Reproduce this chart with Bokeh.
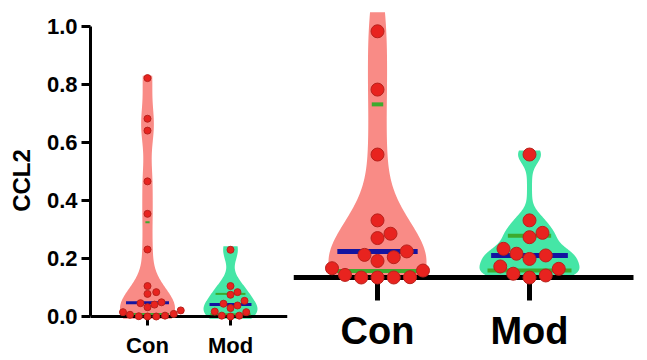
import numpy as np
from bokeh.plotting import figure
from bokeh.layouts import row
from bokeh.models import FixedTicker, NumeralTickFormatter
from bokeh.embed import file_html
from bokeh.resources import INLINE

# ---------------- data ----------------
categories = ["Con", "Mod"]
y_label = "CCL2"
y_ticks = [0.0, 0.2, 0.4, 0.6, 0.8, 1.0]

# left panel (full range)
left_con = [0.822, 0.682, 0.641, 0.466, 0.354, 0.231, 0.105, 0.084, 0.078, 0.049,
            0.046, 0.041, 0.032, 0.021, 0.015, 0.009, 0.006, 0.003, 0.001, 0.000, 0.000]
left_mod = [0.230, 0.105, 0.084, 0.075, 0.054, 0.044, 0.038, 0.029, 0.017, 0.015,
            0.003, 0.003, 0.000]
# quartiles: [Q1, median, Q3]
left_con_q = [0.009, 0.047, 0.325]
left_mod_q = [0.008, 0.041, 0.078]
left_con_ext = [-0.008, 0.83]
left_mod_ext = [-0.008, 0.242]

# right panel (enlarged view)
right_con = [0.989, 0.788, 0.564, 0.337, 0.291, 0.276, 0.230, 0.218, 0.210, 0.197,
             0.172, 0.164, 0.149, 0.141, 0.140, 0.140, 0.140]
right_mod = [0.564, 0.337, 0.294, 0.279, 0.239, 0.222, 0.216, 0.204, 0.178, 0.170,
             0.153, 0.147, 0.140]
right_con_q = [0.162, 0.230, 0.737]
right_mod_q = [0.164, 0.216, 0.284]
right_con_ext = [0.137, 1.055]
right_mod_ext = [0.137, 0.578]
right_base = 0.14

# ---------------- styles ----------------
FONT = "Liberation Sans"
CON_FILL = "#F98B86"
MOD_FILL = "#45E6A6"
DOT_FILL = "#E8231F"
DOT_LINE = "#B8221C"
MED_COL = "#1414A0"
QRT_COL = "#3DAA2E"


def kde_raw(values, grid, h):
    v = np.asarray(values, dtype=float)
    return np.exp(-0.5 * ((grid[:, None] - v[None, :]) / h) ** 2).sum(axis=1)


def swarm(values, d_px, px_x, px_y, sep=1.05):
    vals = np.asarray(values, dtype=float)
    order = np.argsort(vals, kind="stable")
    placed = []
    offs = np.zeros(len(vals))
    step = d_px / 4.0
    cands = [0.0]
    for k in range(1, 80):
        cands += [k * step, -k * step]
    for i in order:
        y = vals[i] * px_y
        for c in cands:
            if all((c - px) ** 2 + (y - py) ** 2 >= (sep * d_px) ** 2 for px, py in placed):
                break
        placed.append((c, y))
        offs[i] = c / px_x
    return offs


def draw_violin(p, center, values, ext, quarts, fill, maxhalf, h, floor, gamma,
                dot_size, px_x, px_y, med_w, q_w, frac=0.9):
    ys = np.linspace(ext[0], ext[1], 300)
    raw = kde_raw(values, ys, h)
    mx = raw.max()
    kn = (raw / mx) ** gamma
    half = maxhalf * (floor + (1 - floor) * kn)
    xs = np.concatenate([center + half, (center - half)[::-1]])
    yy = np.concatenate([ys, ys[::-1]])
    p.patch(xs, yy, fill_color=fill, line_color=None, level="underlay")
    for j, q in enumerate(quarts):
        kq = (kde_raw(values, np.array([q]), h)[0] / mx) ** gamma
        hl = frac * maxhalf * (1 - floor) * kq
        col = MED_COL if j == 1 else QRT_COL
        lw = med_w if j == 1 else q_w
        p.segment(x0=[center - hl], x1=[center + hl], y0=[q], y1=[q],
                  line_color=col, line_width=lw, level="annotation")
    offs = swarm(values, dot_size, px_x, px_y)
    p.scatter(center + offs, values, size=dot_size, fill_color=DOT_FILL,
              line_color=DOT_LINE, line_width=1, level="overlay")


def style_common(p):
    p.outline_line_color = None
    p.xgrid.grid_line_color = None
    p.ygrid.grid_line_color = None
    p.background_fill_color = "white"
    p.border_fill_color = "white"


def style_xaxis(ax, lw, tick_out, font_size, standoff):
    ax.ticker = FixedTicker(ticks=[1, 2])
    ax.major_label_overrides = {1: categories[0], 2: categories[1]}
    ax.axis_line_width = lw
    ax.major_tick_line_width = lw
    ax.major_tick_in = 0
    ax.major_tick_out = tick_out
    ax.minor_tick_line_color = None
    ax.major_label_text_font = FONT
    ax.major_label_text_font_style = "bold"
    ax.major_label_text_font_size = font_size
    ax.major_label_text_color = "black"
    ax.major_label_standoff = standoff


# ---------------- left panel ----------------
PXY = 290.0
LPX = 83.0
L_TOP, L_ZERO, H = 26.0, 316.0, 360.0
left = figure(width=293, height=360,
              x_range=(1 - 57 / LPX, 1 + 140 / LPX),
              y_range=(-(H - L_ZERO) / PXY, 1 + L_TOP / PXY),
              min_border_left=90, min_border_right=6, min_border_top=0, min_border_bottom=0,
              output_backend="svg", toolbar_location=None)
style_common(left)
draw_violin(left, 1, left_con, left_con_ext, left_con_q, CON_FILL, 27.5 / LPX, 0.06, 0.10, 1.0,
            7, LPX, PXY, 3, 2)
draw_violin(left, 2, left_mod, left_mod_ext, left_mod_q, MOD_FILL, 27.0 / LPX, 0.03, 0.10, 0.8,
            7, LPX, PXY, 3, 2)

ya = left.yaxis[0]
ya.ticker = FixedTicker(ticks=y_ticks)
ya.formatter = NumeralTickFormatter(format="0.0")
ya.bounds = (0, 1)
ya.axis_line_width = 3
ya.major_tick_line_width = 3
ya.major_tick_out = 9
ya.major_tick_in = 0
ya.minor_tick_line_color = None
ya.major_label_text_font = FONT
ya.major_label_text_font_style = "bold"
ya.major_label_text_font_size = "22px"
ya.major_label_text_color = "black"
ya.major_label_standoff = 4
ya.axis_label = y_label
ya.axis_label_text_font = FONT
ya.axis_label_text_font_style = "bold"
ya.axis_label_text_font_size = "24px"
ya.axis_label_text_color = "black"
ya.axis_label_standoff = 9

style_xaxis(left.xaxis[0], 3, 9, "22px", 7)
left.xaxis.fixed_location = 0

# ---------------- right panel ----------------
RPX = 152.0
R_BASE_PX = 277.0
right = figure(width=354, height=360,
               x_range=(1 - 84 / RPX, 1 + 270 / RPX),
               y_range=(right_base - (H - R_BASE_PX) / PXY, right_base + R_BASE_PX / PXY),
               min_border_left=0, min_border_right=0, min_border_top=0, min_border_bottom=0,
               y_axis_location=None, output_backend="svg", toolbar_location=None)
style_common(right)
draw_violin(right, 1, right_con, right_con_ext, right_con_q, CON_FILL, 49.0 / RPX, 0.12, 0.06, 0.9,
            13, RPX, PXY, 5, 4)
draw_violin(right, 2, right_mod, right_mod_ext, right_mod_q, MOD_FILL, 50.0 / RPX, 0.03, 0.05, 1.0,
            13, RPX, PXY, 5, 4)
style_xaxis(right.xaxis[0], 5, 23, "38px", 9)
right.xaxis.fixed_location = right_base
right.xaxis.bounds = (1 - 84 / RPX, 1 + 256 / RPX)

layout = row(left, right)
open("out.html", "w").write(file_html(layout, INLINE))
